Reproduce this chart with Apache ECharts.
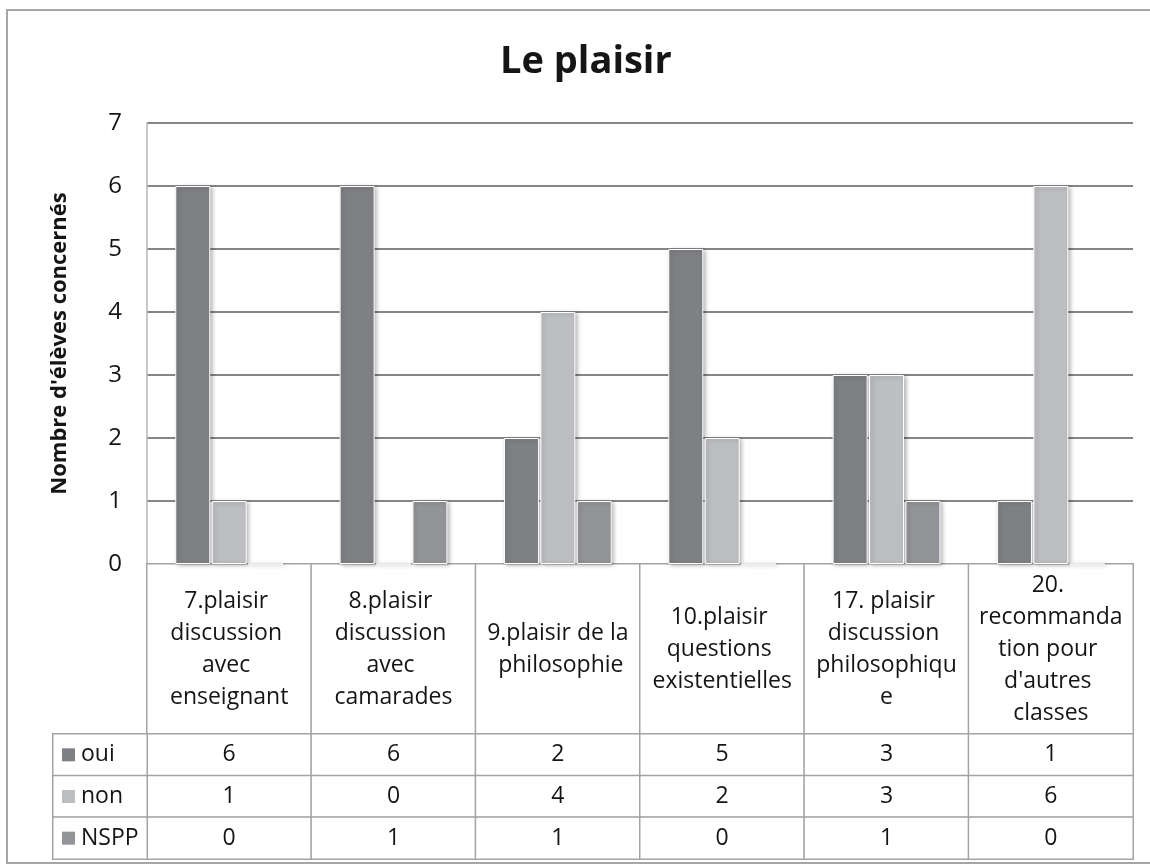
<!DOCTYPE html>
<html>
<head>
<meta charset="utf-8">
<script src="https://cdn.jsdelivr.net/npm/echarts@6/dist/echarts.min.js"></script>
<style>
html,body{margin:0;padding:0;background:#fff;}
#chart{width:1150px;height:865px;}
</style>
</head>
<body>
<div id="chart"></div>
<script>
var title = 'Le plaisir';
var yAxisName = "Nombre d'élèves concernés";
var categories = [
  '7.plaisir discussion avec enseignant',
  '8.plaisir discussion avec camarades',
  '9.plaisir de la philosophie',
  '10.plaisir questions existentielles',
  '17. plaisir discussion philosophique',
  "20. recommandation pour d'autres classes"
];
var seriesNames = ['oui', 'non', 'NSPP'];
var oui = [6, 6, 2, 5, 3, 1];
var non = [1, 0, 4, 2, 3, 6];
var nspp = [0, 1, 1, 0, 1, 0];
var yTicks = [0, 1, 2, 3, 4, 5, 6, 7];

var colors = ['#7f8084', '#bdbec2', '#939498'];
var FONT = 'Open Sans';
var TEXT = '#151515';
var CELL_BORDER = '#a3a3a3';
var seriesValues = [oui, non, nspp];

var chart = echarts.init(document.getElementById('chart'), null, {renderer: 'canvas'});

var headerData = categories.map(function (c, i) { return [i, 0, 0]; });
var valueData = [];
seriesValues.forEach(function (arr, r) {
  arr.forEach(function (v, i) { valueData.push([i, r, v]); });
});
var legendData = seriesNames.map(function (n, r) { return [0, r, r]; });

var barSeries = seriesNames.map(function (name, r) {
  return {
    name: name,
    type: 'bar',
    xAxisIndex: 0,
    yAxisIndex: 0,
    data: seriesValues[r],
    barWidth: 35,
    barGap: '4%',
    itemStyle: {
      color: colors[r],
      borderColor: '#ffffff',
      borderWidth: 1,
      shadowBlur: 4,
      shadowColor: 'rgba(0,0,0,0.28)',
      shadowOffsetX: 2,
      shadowOffsetY: 1
    },
    emphasis: {disabled: true},
    silent: true
  };
});

var cellStyle = {color: '#ffffff', borderColor: CELL_BORDER, borderWidth: 1.5};

var rich = {t: {fontFamily: FONT, fontSize: 23, color: TEXT, padding: [0, 0, 0, 6]}};
colors.forEach(function (c, r) {
  rich['s' + r] = {width: 13, height: 13, backgroundColor: c};
});

var option = {
  animation: false,
  backgroundColor: '#ffffff',
  textStyle: {fontFamily: FONT},
  title: {
    text: title,
    left: 495,
    top: 38,
    textStyle: {fontFamily: FONT, fontSize: 38, fontWeight: 'bold', color: TEXT}
  },
  graphic: [{
    type: 'rect',
    shape: {x: 7, y: 10, width: 1150, height: 853},
    style: {fill: 'none', stroke: '#a6a6a6', lineWidth: 2},
    silent: true,
    z: -1
  }],
  grid: [
    {left: 147, top: 123, width: 986, height: 441},
    {left: 147, top: 564, width: 986, height: 170},
    {left: 147, top: 734, width: 986, height: 125},
    {left: 53, top: 734, width: 94, height: 125}
  ],
  xAxis: [
    {type: 'category', gridIndex: 0, data: categories,
     axisLine: {show: true, lineStyle: {color: '#b4b4b4', width: 1.5}},
     axisTick: {show: false}, axisLabel: {show: false}},
    {type: 'category', gridIndex: 1, data: categories, show: false},
    {type: 'category', gridIndex: 2, data: categories, show: false},
    {type: 'category', gridIndex: 3, data: ['legende'], show: false}
  ],
  yAxis: [
    {type: 'value', gridIndex: 0, min: 0, max: 7, interval: 1,
     name: yAxisName, nameLocation: 'middle', nameGap: 76, nameRotate: 90,
     nameTextStyle: {fontFamily: FONT, fontSize: 22, fontWeight: 'bold', color: TEXT},
     axisLine: {show: true, lineStyle: {color: '#b4b4b4', width: 1.5}},
     axisTick: {show: false},
     axisLabel: {fontFamily: FONT, fontSize: 24, color: TEXT, margin: 25,
       formatter: function (v) { return yTicks.indexOf(v) >= 0 ? String(v) : ''; }},
     splitLine: {show: true, lineStyle: {color: '#858585', width: 2}}},
    {type: 'category', gridIndex: 1, data: ['header'], show: false},
    {type: 'category', gridIndex: 2, data: seriesNames, inverse: true, show: false},
    {type: 'category', gridIndex: 3, data: seriesNames, inverse: true, show: false}
  ],
  series: barSeries.concat([
    {
      type: 'heatmap', xAxisIndex: 1, yAxisIndex: 1, data: headerData,
      itemStyle: cellStyle, emphasis: {disabled: true}, silent: true,
      label: {show: true, fontFamily: FONT, fontSize: 23, color: TEXT,
        lineHeight: 32, width: 146, overflow: 'break', align: 'center',
        formatter: function (p) { return categories[p.value[0]]; }}
    },
    {
      type: 'heatmap', xAxisIndex: 2, yAxisIndex: 2, data: valueData,
      itemStyle: cellStyle, emphasis: {disabled: true}, silent: true,
      label: {show: true, fontFamily: FONT, fontSize: 23, color: TEXT,
        formatter: function (p) { return String(p.value[2]); }}
    },
    {
      type: 'heatmap', xAxisIndex: 3, yAxisIndex: 3, data: legendData,
      itemStyle: cellStyle, emphasis: {disabled: true}, silent: true,
      label: {show: true, position: 'insideLeft', distance: 10, rich: rich,
        formatter: function (p) {
          var r = p.value[2];
          return '{s' + r + '|}{t|' + seriesNames[r] + '}';
        }}
    }
  ])
};
chart.setOption(option);
</script>
</body>
</html>
